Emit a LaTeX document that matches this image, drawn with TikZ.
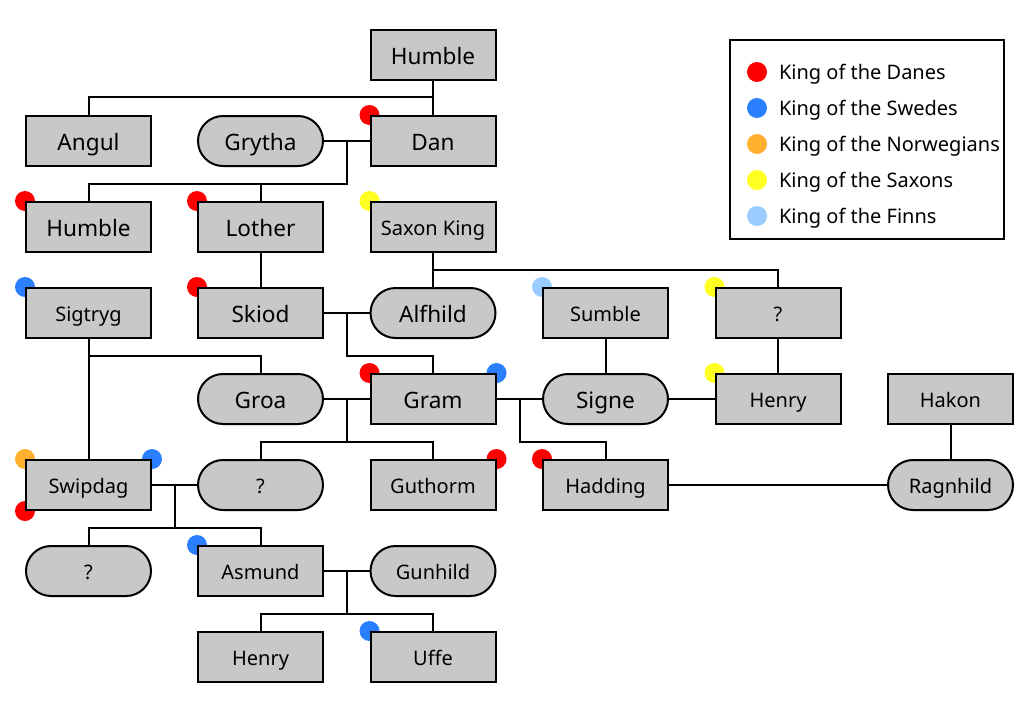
\documentclass[tikz,border=0pt]{standalone}
\usepackage{fontspec}
\setmainfont{Noto Sans}
\usetikzlibrary{backgrounds}
\definecolor{boxgray}{HTML}{C8C8C8}
\definecolor{danes}{HTML}{FF0000}
\definecolor{swedes}{HTML}{2A7FFF}
\definecolor{norwegians}{HTML}{FFB02E}
\definecolor{saxons}{HTML}{FFFF22}
\definecolor{finns}{HTML}{99CCFF}
\begin{document}
\begin{tikzpicture}[x=1pt,y=-1pt,line width=2pt,
	person/.style={draw,fill=boxgray,minimum width=125pt,minimum height=50pt,inner sep=0pt},
	man/.style={person},
	woman/.style={person,rounded corners=25pt},
	big/.style={font=\fontsize{22.6}{26}\selectfont,text height=20.4pt,text depth=0.6pt},
	small/.style={font=\fontsize{20}{23}\selectfont,text height=17.4pt,text depth=0.6pt},
	legendtext/.style={anchor=base west,inner sep=0pt,font=\fontsize{20}{23}\selectfont}]
			%%Location
			\useasboundingbox (0,0) rectangle (1024,701);
			%%People
			\node[man,big] (humbleA) at (433,55) {Humble};
			\node[man,big] (angul) at (88.5,141) {Angul};
			\node[woman,big] (grytha) at (260.5,141) {Grytha};
			\node[man,big] (dan) at (433,141) {Dan};
			\node[man,big] (humbleB) at (88.5,227) {Humble};
			\node[man,big] (lother) at (260.5,227) {Lother};
			\node[man,small] (saxon) at (433,227) {Saxon King};
			\node[man,small] (sigtryg) at (88.5,313) {Sigtryg};
			\node[man,big] (skiod) at (260.5,313) {Skiod};
			\node[woman,big] (alfhild) at (433,313) {Alfhild};
			\node[man,small] (sumble) at (605.5,313) {Sumble};
			\node[man,small] (unkA) at (778,313) {?};
			\node[woman,big] (groa) at (260.5,399) {Groa};
			\node[man,big] (gram) at (433,399) {Gram};
			\node[woman,big] (signe) at (605.5,399) {Signe};
			\node[man,small] (henryA) at (778,399) {Henry};
			\node[man,small] (hakon) at (950.5,399) {Hakon};
			\node[man,small] (swipdag) at (88.5,485) {Swipdag};
			\node[woman,small] (unkB) at (260.5,485) {?};
			\node[man,small] (guthorm) at (433,485) {Guthorm};
			\node[man,small] (hadding) at (605.5,485) {Hadding};
			\node[woman,small] (ragnhild) at (950.5,485) {Ragnhild};
			\node[woman,small] (unkC) at (88.5,571) {?};
			\node[man,small] (asmund) at (260.5,571) {Asmund};
			\node[woman,small] (gunhild) at (433,571) {Gunhild};
			\node[man,small] (henryB) at (260.5,657) {Henry};
			\node[man,small] (uffe) at (433,657) {Uffe};
			%%Junctions
			\coordinate (j1) at (433,97);
			\coordinate (m1) at (346.5,141);
			\coordinate (b1) at (346.5,184);
			\coordinate (j2) at (433,270);
			\coordinate (m2) at (346.5,313);
			\coordinate (b2) at (346.5,356);
			\coordinate (j3) at (88.5,356);
			\coordinate (m3) at (346.5,399);
			\coordinate (b3) at (346.5,442);
			\coordinate (m4) at (519.5,399);
			\coordinate (b4) at (519.5,442);
			\coordinate (m5) at (174.5,485);
			\coordinate (b5) at (174.5,528);
			\coordinate (m6) at (346.5,571);
			\coordinate (b6) at (346.5,614);
			%%Lines
			\draw (humbleA) -- (dan);
			\draw (j1) -| (angul.north);
			\draw (grytha) -- (dan);
			\draw (m1) -- (b1) -| (humbleB.north);
			\draw (b1) -| (lother.north);
			\draw (lother) -- (skiod);
			\draw (saxon) -- (alfhild);
			\draw (j2) -| (unkA.north);
			\draw (skiod) -- (alfhild);
			\draw (m2) -- (b2) -| (gram.north);
			\draw (sigtryg) -- (swipdag);
			\draw (j3) -| (groa.north);
			\draw (sumble) -- (signe);
			\draw (unkA) -- (henryA);
			\draw (signe) -- (henryA);
			\draw (groa) -- (gram);
			\draw (m3) -- (b3) -| (unkB.north);
			\draw (b3) -| (guthorm.north);
			\draw (gram) -- (signe);
			\draw (m4) -- (b4) -| (hadding.north);
			\draw (hakon) -- (ragnhild);
			\draw (hadding) -- (ragnhild);
			\draw (swipdag) -- (unkB);
			\draw (m5) -- (b5) -| (unkC.north);
			\draw (b5) -| (asmund.north);
			\draw (asmund) -- (gunhild);
			\draw (m6) -- (b6) -| (henryB.north);
			\draw (b6) -| (uffe.north);
			%%Crowns
			\begin{scope}[on background layer]
			\fill[danes] (dan.north west) circle (10pt);
			\fill[danes] (humbleB.north west) circle (10pt);
			\fill[danes] (lother.north west) circle (10pt);
			\fill[saxons] (saxon.north west) circle (10pt);
			\fill[swedes] (sigtryg.north west) circle (10pt);
			\fill[danes] (skiod.north west) circle (10pt);
			\fill[finns] (sumble.north west) circle (10pt);
			\fill[saxons] (unkA.north west) circle (10pt);
			\fill[danes] (gram.north west) circle (10pt);
			\fill[swedes] (gram.north east) circle (10pt);
			\fill[saxons] (henryA.north west) circle (10pt);
			\fill[norwegians] (swipdag.north west) circle (10pt);
			\fill[swedes] (swipdag.north east) circle (10pt);
			\fill[danes] (swipdag.south west) circle (10pt);
			\fill[danes] (guthorm.north east) circle (10pt);
			\fill[danes] (hadding.north west) circle (10pt);
			\fill[swedes] (asmund.north west) circle (10pt);
			\fill[swedes] (uffe.north west) circle (10pt);
			\end{scope}
			%%Legend
			\draw (730,40) rectangle (1004,239);
			\fill[danes] (757,72) circle (10pt);
			\fill[swedes] (757,108) circle (10pt);
			\fill[norwegians] (757,144) circle (10pt);
			\fill[saxons] (757,180) circle (10pt);
			\fill[finns] (757,216) circle (10pt);
			\node[legendtext] (ldanes) at (778,79) {King of the Danes};
			\node[legendtext] (lswedes) at (778,115) {King of the Swedes};
			\node[legendtext] (lnorwegians) at (778,151) {King of the Norwegians};
			\node[legendtext] (lsaxons) at (778,187) {King of the Saxons};
			\node[legendtext] (lfinns) at (778,223) {King of the Finns};
\end{tikzpicture}
\end{document}
